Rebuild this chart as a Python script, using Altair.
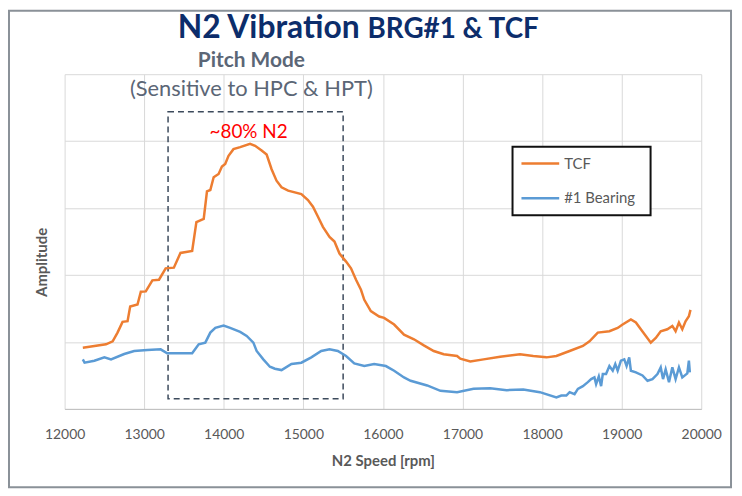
import altair as alt
import pandas as pd

# ---- data ----
tcf_speed = [12229, 12520, 12604, 12665, 12728, 12791, 12824, 12916, 12958, 13020,
             13103, 13186, 13270, 13373, 13456, 13603, 13656, 13748, 13789, 13831,
             13873, 13935, 13977, 14018, 14060, 14122, 14206, 14330, 14394, 14476,
             14539, 14601, 14663, 14726, 14809, 14975, 15058, 15121, 15184, 15246,
             15329, 15391, 15454, 15537, 15599, 15662, 15724, 15766, 15848, 15953,
             16015, 16141, 16265, 16390, 16514, 16639, 16764, 16932, 16972, 17098,
             17265, 17473, 17723, 17889, 18055, 18180, 18346, 18513, 18596, 18700,
             18846, 18950, 19012, 19116, 19179, 19241, 19304, 19366, 19429, 19491,
             19574, 19637, 19678, 19720, 19762, 19803, 19845, 19865]
tcf_amp = [0.915, 0.965, 1.01, 1.14, 1.30, 1.31, 1.53, 1.56, 1.75, 1.755,
           1.92, 1.93, 2.10, 2.11, 2.33, 2.36, 2.79, 2.84, 3.25, 3.27,
           3.46, 3.51, 3.62, 3.66, 3.78, 3.88, 3.91, 3.96, 3.93, 3.86,
           3.80, 3.58, 3.41, 3.31, 3.26, 3.21, 3.12, 3.02, 2.87, 2.72,
           2.57, 2.50, 2.32, 2.20, 2.10, 1.93, 1.78, 1.63, 1.46, 1.38,
           1.36, 1.26, 1.11, 1.04, 0.95, 0.865, 0.816, 0.79, 0.75, 0.71,
           0.74, 0.78, 0.815, 0.79, 0.77, 0.79, 0.865, 0.94, 1.01, 1.14,
           1.16, 1.21, 1.26, 1.335, 1.29, 1.19, 1.09, 0.99, 1.06, 1.16,
           1.19, 1.24, 1.16, 1.29, 1.19, 1.31, 1.385, 1.48]

brg_speed = [12229, 12251, 12374, 12500, 12583, 12749, 12874, 13040, 13207, 13289,
             13603, 13685, 13768, 13831, 13894, 13998, 14080, 14206, 14288, 14372,
             14413, 14497, 14580, 14643, 14726, 14851, 14975, 15100, 15225, 15329,
             15433, 15537, 15640, 15766, 15890, 16037, 16141, 16265, 16348, 16556,
             16723, 16932, 17139, 17347, 17556, 17764, 17972, 18180, 18242, 18305,
             18346, 18408, 18450, 18513, 18575, 18617, 18658, 18679, 18713, 18742,
             18763, 18804, 18846, 18888, 18920, 18950, 18991, 19033, 19062, 19095,
             19116, 19179, 19262, 19325, 19387, 19450, 19491, 19520, 19553, 19595,
             19637, 19678, 19720, 19762, 19825, 19845, 19857]
brg_amp = [0.74, 0.69, 0.72, 0.77, 0.74, 0.82, 0.865, 0.88, 0.89, 0.83,
           0.83, 0.965, 0.99, 1.14, 1.21, 1.245, 1.21, 1.15, 1.09, 0.99,
           0.865, 0.74, 0.63, 0.60, 0.58, 0.67, 0.69, 0.77, 0.865, 0.89,
           0.865, 0.79, 0.68, 0.64, 0.67, 0.64, 0.57, 0.47, 0.42, 0.35,
           0.27, 0.25, 0.30, 0.31, 0.28, 0.29, 0.25, 0.17, 0.20, 0.20,
           0.25, 0.22, 0.30, 0.34, 0.40, 0.445, 0.47, 0.37, 0.485, 0.34,
           0.52, 0.52, 0.64, 0.57, 0.67, 0.57, 0.72, 0.74, 0.64, 0.77,
           0.57, 0.545, 0.50, 0.42, 0.445, 0.52, 0.62, 0.445, 0.59, 0.40,
           0.62, 0.445, 0.62, 0.47, 0.53, 0.72, 0.545]

series_names = ["TCF", "#1 Bearing"]
series_colors = ["#ED7D31", "#5B9BD5"]
x_ticks = [12000, 13000, 14000, 15000, 16000, 17000, 18000, 19000, 20000]
y_grid = [0, 1, 2, 3, 4, 5]
box_speed = [13300, 15500]
box_amp = [0.15, 4.44]
note_speed = [14312]
note_amp = [4.05]
note_text = ["~80% N2"]

FONT = "Lato"
W, H = 641, 337

df = pd.concat([
    pd.DataFrame({"speed": tcf_speed, "amp": tcf_amp, "series": series_names[0]}),
    pd.DataFrame({"speed": brg_speed, "amp": brg_amp, "series": series_names[1]}),
])

x_scale = alt.Scale(domain=[12000, 20000], nice=False, zero=False)
y_scale = alt.Scale(domain=[0, 5], nice=False)
x_axis = alt.Axis(values=x_ticks, format="d", title="N2 Speed [rpm]", ticks=False,
                  labelPadding=19, labelFontSize=14, labelColor="#595959", labelFont=FONT,
                  labelFlush=False,
                  titleFontSize=15, titleFontWeight="bold", titleColor="#595959", titleFont=FONT,
                  titlePadding=12, domainColor="#bfbfbf", gridColor="#d9d9d9", grid=True)
y_axis = alt.Axis(values=y_grid, labels=False, ticks=False, domain=False, title="Amplitude",
                  titleFontSize=15, titleFontWeight="bold", titleColor="#595959", titleFont=FONT,
                  titleX=-23, titleY=189, titleAngle=270, titleAlign="center", titleBaseline="middle",
                  gridColor="#d9d9d9", grid=True)

X = alt.X("speed:Q", scale=x_scale, axis=x_axis)
Y = alt.Y("amp:Q", scale=y_scale, axis=y_axis)

lines = alt.Chart(df).mark_line(strokeWidth=2.5).encode(
    x=X, y=Y,
    color=alt.Color("series:N", sort=series_names,
                    scale=alt.Scale(domain=series_names, range=series_colors),
                    legend=None),
)

box_df = pd.DataFrame({"speed": [box_speed[0]], "speed2": [box_speed[1]],
                       "amp": [box_amp[0]], "amp2": [box_amp[1]]})
box = alt.Chart(box_df).mark_rect(fillOpacity=0, stroke="#3c4a5c", strokeWidth=1.5,
                                  strokeDash=[6, 4]).encode(
    x=X, x2="speed2:Q", y=Y, y2="amp2:Q")

note = alt.Chart(pd.DataFrame({"speed": note_speed, "amp": note_amp, "label": note_text})).mark_text(
    color="#FF0000", fontSize=19, font=FONT, baseline="alphabetic", align="center").encode(
    x=X, y=Y, text="label:N")


def one():
    return pd.DataFrame({"k": [0]})


def txt(s, x, y, size, weight="normal", color="#5B6676", align="center", baseline="alphabetic"):
    return alt.Chart(pd.DataFrame({"label": [s]})).mark_text(
        fontSize=size, fontWeight=weight, color=color, font=FONT, align=align,
        baseline=baseline).encode(x=alt.value(x), y=alt.value(y), text="label:N")


t1 = txt("N2 Vibration", 297, -36, 32, "bold", "#0C2D6B", "right")
t2 = txt("BRG#1 & TCF", 305, -36, 28, "bold", "#0C2D6B", "left")
t3 = txt("Pitch Mode", 188, -7, 21, "bold")
t4 = txt("(Sensitive to HPC & HPT)", 188, 22, 22)

# legend (drawn as a framed box)
leg_box = alt.Chart(one()).mark_rect(fill="white", stroke="#111111", strokeWidth=2).encode(
    x=alt.value(451), x2=alt.value(590), y=alt.value(73), y2=alt.value(142))
leg_layers = [leg_box]
for i, (name, col) in enumerate(zip(series_names, series_colors)):
    yy = 90 + 35 * i
    leg_layers.append(alt.Chart(one()).mark_rule(color=col, strokeWidth=2.5).encode(
        x=alt.value(460), x2=alt.value(498), y=alt.value(yy)))
    leg_layers.append(txt(name, 503, yy, 15, "normal", "#595959", "left", "middle"))

frame = alt.Chart(one()).mark_rect(fillOpacity=0, stroke="#8a9198", strokeWidth=2).encode(
    x=alt.value(-56), x2=alt.value(671), y=alt.value(-64), y2=alt.value(416))

chart = alt.layer(frame, box, lines, note, t1, t2, t3, t4, *leg_layers).properties(
    width=W, height=H,
    autosize=alt.AutoSizeParams(type="none"),
    padding={"left": 57, "top": 65, "right": 33, "bottom": 80},
    background="white",
).configure_view(strokeWidth=0)

chart.save("out.html", embed_options={"renderer": "svg", "actions": False})
